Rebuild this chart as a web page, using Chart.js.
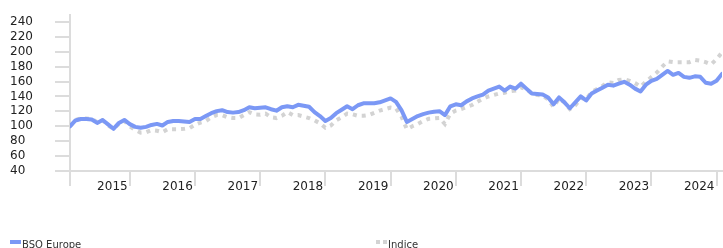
<!DOCTYPE html>
<html>
<head>
<meta charset="utf-8">
<script src="https://cdn.jsdelivr.net/npm/chart.js@4/dist/chart.umd.min.js"></script>
<style>
  html, body { margin: 0; padding: 0; background: #fff; }
  #wrap { position: relative; width: 723px; height: 248px; overflow: hidden; }
  canvas { position: absolute; left: 0; top: 0; }
  .leg { position: absolute; font-family: "DejaVu Sans", Verdana, sans-serif; font-size: 10px; line-height: 12px; color: #333; white-space: nowrap; }
  .mk { position: absolute; }
</style>
</head>
<body>
<div id="wrap">
  <canvas id="c" width="723" height="248"></canvas>
  <div class="mk" style="left:10px;top:240px;width:11px;height:4px;background:#7b98f5;"></div>
  <div class="leg" style="left:22px;top:239px;">BSO Europe</div>
  <div class="mk" style="left:376px;top:240px;width:4px;height:4px;background:#d3d3d3;"></div>
  <div class="mk" style="left:383px;top:240px;width:4px;height:4px;background:#d3d3d3;"></div>
  <div class="leg" style="left:388px;top:239px;">Indice</div>
</div>
<script>
// Monthly index values (base 100), starting Feb 2015
const seriesNames = ['BSO Europe', 'Indice'];
const bsoEurope = [
  100, 107.8, 109.7, 109.7, 109, 104.5, 108.4, 102.5, 96.6, 104.5,
  108.5, 102.9, 99.2, 97.9, 99.2, 101.8, 103.2, 101, 105.8, 107.1,
  107, 106.4, 105.8, 109.7, 109.7, 113.7, 117.6, 120.3, 121.6, 119,
  118.3, 119, 121.6, 125.5, 124.2, 124.9, 125.5, 122.9, 120.9, 125.5,
  126.8, 125.5, 128.8, 127.5, 126.2, 119, 113.7, 107.1, 111, 117.6,
  122.2, 126.8, 122.9, 128.2, 130.8, 130.8, 130.8, 132.1, 134.7, 137.4,
  132.8, 121.6, 105.8, 109.7, 113.7, 116.3, 118.3, 119.6, 120.3, 115,
  126.8, 129.5, 128.2, 133.4, 137.4, 140, 142.6, 147.9, 150.5, 153.2,
  147.9, 153.2, 150.5, 157.1, 150.5, 143.9, 143.3, 142.6, 138.7, 129.5,
  138.7, 132.1, 124.2, 132.1, 140, 134.7, 143.9, 147.9, 151.8, 155.8,
  154.5, 157.1, 159.7, 155.8, 150.5, 146.6, 155.8, 161, 163.7, 169,
  174.2, 169, 171.6, 166.3, 165, 167, 166.3, 158.4, 157.1, 161,
  170.3
];
const indice = [
  100, 108.5, 110.5, 110.5, 110, 105.5, 108, 101, 97, 103,
  107, 100, 95, 91.5, 92, 95, 94, 92, 96, 96,
  96, 96.5, 97.5, 102, 105, 107, 112, 115, 115, 112,
  111, 111, 115, 119, 116, 115.5, 117, 112, 111, 114,
  119, 115, 115, 113, 111, 108, 104, 98, 101, 108,
  112, 117, 116, 114, 114, 115, 118, 121, 123, 125,
  124, 113, 96, 100, 103, 107, 110, 110.5, 111, 103,
  117, 121, 123, 126, 128.5, 133, 137, 140, 142, 144,
  145, 147, 148, 152, 150, 144, 142, 141, 136, 126,
  137, 132, 123, 128, 138, 136, 146, 150, 154, 159,
  158, 162, 163, 161, 158, 153, 160, 166, 172, 180,
  187, 186, 186, 186, 186, 189, 188, 186, 183, 190,
  199
];
const yearLabels = ['2015','2016','2017','2018','2019','2020','2021','2022','2023','2024'];
const yTickValues = [40, 60, 80, 100, 120, 140, 160, 180, 200, 220, 240];

// month index: 0 = Jan 2015; first value is Feb 2015
const firstMonth = 1;
const toPoints = arr => arr.map((v, i) => ({ x: firstMonth + i, y: v }));

const boundaryTicks = [firstMonth].concat(yearLabels.slice(1).map((_, i) => 12 * (i + 1))).concat([120]);
const labelTicks = yearLabels.map((_, i) => 12 * i + 8.8);
const boundarySet = new Set(boundaryTicks);
const labelMap = new Map(labelTicks.map((v, i) => [v, yearLabels[i]]));

const axisGray = '#dcdcdc';
const font = { family: '"DejaVu Sans", Verdana, sans-serif', size: 12 };

new Chart(document.getElementById('c'), {
  type: 'line',
  data: {
    datasets: [
      {
        label: seriesNames[0],
        data: toPoints(bsoEurope),
        borderColor: '#7b98f5',
        backgroundColor: '#7b98f5',
        borderWidth: 4,
        pointRadius: 0,
        tension: 0,
        borderJoinStyle: 'round',
        borderCapStyle: 'round'
      },
      {
        label: seriesNames[1],
        data: toPoints(indice),
        borderColor: '#d3d3d3',
        backgroundColor: '#d3d3d3',
        borderWidth: 4,
        borderDash: [4, 5],
        pointRadius: 0,
        tension: 0
      }
    ]
  },
  options: {
    responsive: false,
    animation: false,
    events: [],
    layout: { padding: { top: 12, right: 1, left: 10, bottom: 0 } },
    plugins: { legend: { display: false }, tooltip: { enabled: false } },
    scales: {
      x: {
        type: 'linear',
        min: firstMonth,
        max: firstMonth + bsoEurope.length - 1,
        afterBuildTicks: axis => {
          const vals = boundaryTicks.concat(labelTicks).sort((a, b) => a - b);
          axis.ticks = vals.map(v => ({ value: v }));
        },
        afterFit: axis => { axis.height = 77; },
        border: { display: true, color: axisGray, width: 2 },
        grid: {
          drawOnChartArea: false,
          drawTicks: true,
          tickLength: 15,
          lineWidth: 2,
          color: ctx => (ctx.tick && boundarySet.has(ctx.tick.value)) ? axisGray : 'rgba(0,0,0,0)'
        },
        ticks: {
          autoSkip: false,
          maxRotation: 0,
          padding: -6,
          color: '#222',
          font: font,
          callback: v => labelMap.has(v) ? labelMap.get(v) : ''
        }
      },
      y: {
        type: 'linear',
        min: 40,
        max: 249,
        afterBuildTicks: axis => { axis.ticks = yTickValues.map(v => ({ value: v })); },
        afterFit: axis => { axis.width = 60; },
        border: { display: true, color: axisGray, width: 2 },
        grid: {
          drawOnChartArea: false,
          drawTicks: true,
          tickLength: 15,
          lineWidth: 2,
          color: axisGray
        },
        ticks: {
          autoSkip: false,
          padding: 8,
          crossAlign: 'far',
          color: '#222',
          font: font
        }
      }
    }
  }
});
</script>
</body>
</html>
